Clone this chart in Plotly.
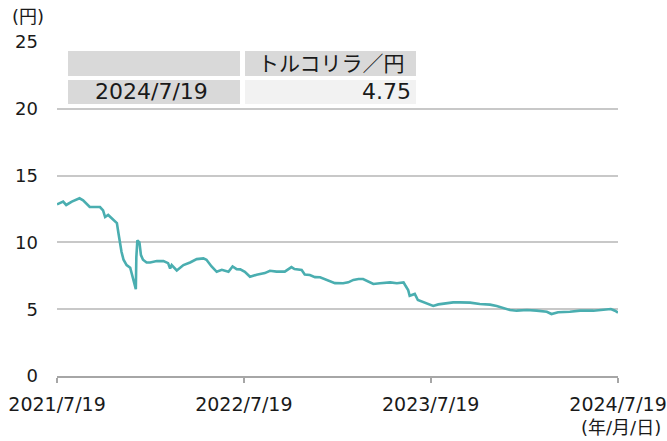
import plotly.graph_objects as go

dates = [
    "2021-07-19", "2021-07-31", "2021-08-06", "2021-08-17", "2021-09-01", "2021-09-08",
    "2021-09-21", "2021-10-11", "2021-10-17", "2021-10-21", "2021-10-27", "2021-11-03",
    "2021-11-13", "2021-11-16", "2021-11-19", "2021-11-22", "2021-11-26", "2021-12-02",
    "2021-12-09", "2021-12-14", "2021-12-20", "2021-12-21", "2021-12-23", "2021-12-27",
    "2021-12-30", "2022-01-03", "2022-01-10", "2022-01-17", "2022-01-30", "2022-02-12",
    "2022-02-21", "2022-02-25", "2022-02-28", "2022-03-10", "2022-03-23", "2022-04-05",
    "2022-04-18", "2022-05-01", "2022-05-07", "2022-05-17", "2022-05-27", "2022-06-06",
    "2022-06-19", "2022-06-27", "2022-07-05", "2022-07-12", "2022-07-21", "2022-07-31",
    "2022-08-13", "2022-08-29", "2022-09-08", "2022-09-21", "2022-10-07", "2022-10-20",
    "2022-10-26", "2022-11-09", "2022-11-15", "2022-11-25", "2022-12-05", "2022-12-15",
    "2022-12-25", "2023-01-03", "2023-01-13", "2023-01-29", "2023-02-08", "2023-02-18",
    "2023-02-28", "2023-03-09", "2023-03-19", "2023-03-29", "2023-04-11", "2023-05-01",
    "2023-05-14", "2023-05-27", "2023-05-30", "2023-06-05", "2023-06-08", "2023-06-18",
    "2023-06-24", "2023-07-04", "2023-07-14", "2023-07-24", "2023-08-03", "2023-08-19",
    "2023-09-01", "2023-09-14", "2023-10-04", "2023-10-23", "2023-11-12", "2023-11-25",
    "2023-12-08", "2023-12-21", "2024-01-03", "2024-01-23", "2024-02-11", "2024-03-02",
    "2024-03-11", "2024-03-24", "2024-04-16", "2024-05-06", "2024-06-01", "2024-06-20",
    "2024-07-05", "2024-07-13", "2024-07-19",
]
try_jpy = [
    12.85, 13.05, 12.80, 13.05, 13.30, 13.15,
    12.65, 12.65, 12.40, 11.90, 12.05, 11.80,
    11.45, 10.70, 9.80, 9.30, 8.70, 8.30,
    8.10, 7.40, 6.50, 8.90, 10.15, 10.00,
    9.05, 8.70, 8.50, 8.50, 8.60, 8.60,
    8.45, 8.05, 8.30, 7.90, 8.30, 8.50,
    8.75, 8.80, 8.70, 8.20, 7.80, 7.95,
    7.80, 8.20, 8.00, 7.98, 7.80, 7.43,
    7.58, 7.70, 7.88, 7.81, 7.81, 8.15,
    8.00, 7.93, 7.60, 7.56, 7.40, 7.39,
    7.24, 7.13, 6.95, 6.94, 7.01, 7.19,
    7.26, 7.26, 7.06, 6.89, 6.94, 7.01,
    6.94, 7.01, 6.81, 6.44, 6.00, 6.14,
    5.69, 5.56, 5.39, 5.24, 5.36, 5.44,
    5.51, 5.51, 5.49, 5.39, 5.34, 5.24,
    5.07, 4.94, 4.89, 4.94, 4.89, 4.81,
    4.64, 4.77, 4.81, 4.89, 4.89, 4.94,
    5.01, 4.89, 4.75,
]

x_tickvals = ["2021-07-19", "2022-07-19", "2023-07-19", "2024-07-19"]
x_ticktext = ["2021/7/19", "2022/7/19", "2023/7/19", "2024/7/19"]
y_tickvals = [0, 5, 10, 15, 20, 25]

table_header = ["", "トルコリラ／円"]
table_row = ["2024/7/19", "4.75"]

FONT = "DejaVu Sans, Noto Sans CJK JP, sans-serif"
TXT = "#1a1a1a"
W, H = 667, 441
L, T = 57, 42
PW, PH = 561, 334
R, B = W - L - PW, H - T - PH
X0, Y0 = L, T
Y1 = Y0 + PH


def px(x):
    return (x - X0) / PW


def py(y):
    return (Y1 - y) / PH


fig = go.Figure()
fig.add_trace(go.Scatter(
    x=dates, y=try_jpy, mode="lines",
    line=dict(color="#4aaeb0", width=2.6),
    hoverinfo="skip", showlegend=False,
))

shapes = []
annotations = []
cells = [
    (68, 240, 51, 76, "#d9d9d9"),
    (245, 416, 51, 76, "#d9d9d9"),
    (68, 240, 80, 104, "#d9d9d9"),
    (245, 416, 80, 104, "#f2f2f2"),
]
for x0, x1, y0, y1, c in cells:
    shapes.append(dict(type="rect", xref="paper", yref="paper",
                       x0=px(x0), x1=px(x1), y0=py(y1), y1=py(y0),
                       fillcolor=c, line=dict(width=0), layer="below"))

HF = dict(size=21, color=TXT, family=FONT)
RF = dict(size=22, color=TXT, family=FONT)
annotations.append(dict(text=table_header[1], xref="paper", yref="paper",
                        x=px(331), y=py(64), xanchor="center", yanchor="middle",
                        showarrow=False, font=HF))
annotations.append(dict(text=table_row[0], xref="paper", yref="paper",
                        x=px(151), y=py(92), xanchor="center", yanchor="middle",
                        showarrow=False, font=RF))
annotations.append(dict(text=table_row[1], xref="paper", yref="paper",
                        x=px(413), y=py(92), xanchor="right", yanchor="middle",
                        showarrow=False, font=RF))
annotations.append(dict(text="(円)", xref="paper", yref="paper",
                        x=px(10), y=py(17), xanchor="left", yanchor="middle",
                        showarrow=False, font=dict(size=18, color=TXT, family=FONT)))
annotations.append(dict(text="(年/月/日)", xref="paper", yref="paper",
                        x=px(663), y=py(427), xanchor="right", yanchor="middle",
                        showarrow=False, font=dict(size=18, color=TXT, family=FONT)))

fig.update_layout(
    width=W, height=H,
    margin=dict(l=L, r=R, t=T, b=B, pad=0, autoexpand=False),
    paper_bgcolor="white", plot_bgcolor="white",
    font=dict(family=FONT, size=18, color=TXT),
    shapes=shapes, annotations=annotations,
    xaxis=dict(
        type="date", range=["2021-07-19", "2024-07-19"],
        tickvals=x_tickvals, ticktext=x_ticktext,
        showgrid=False, zeroline=False, automargin=False,
        showline=True, linecolor="#a6a6a6", linewidth=1.5,
        ticks="outside", ticklen=5, tickcolor="#a6a6a6", tickwidth=1.5,
        ticklabelstandoff=5,
        tickfont=dict(size=19, family=FONT, color=TXT),
    ),
    yaxis=dict(
        range=[0, 25], tickvals=y_tickvals,
        showgrid=True, gridcolor="#c8c8c8", gridwidth=1.5,
        zeroline=False, showline=False, ticks="", automargin=False,
        ticklabelstandoff=18,
        tickfont=dict(size=18, family=FONT, color=TXT),
    ),
)

fig.write_html(
    "out.html",
    config={"displayModeBar": False},
    post_script="document.body.style.margin='0';document.body.style.overflow='hidden';",
)
